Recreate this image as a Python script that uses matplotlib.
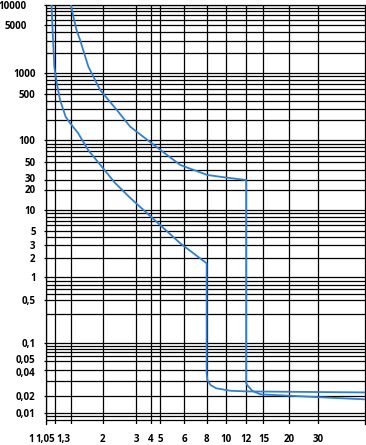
import numpy as np
import matplotlib.pyplot as plt
from matplotlib.transforms import ScaledTranslation

plt.rcParams["font.family"] = ["Open Sans", "DejaVu Sans"]
plt.rcParams["font.size"] = 7
plt.rcParams["font.weight"] = "bold"

# tripping curves: multiple of rated current vs. time (s)
low_x = [1.03, 1.037, 1.046, 1.075, 1.124, 1.214, 1.288, 1.434, 1.641, 1.973,
         2.32, 2.79, 5.82, 8.0, 8.0, 8.06, 8.36, 8.9, 10.38, 12.16, 58]
low_y = [10000, 3860, 1230, 718, 408, 223, 180, 128, 73, 43.5,
         26.6, 15.2, 3.19, 1.64, 0.0369, 0.0306, 0.0268, 0.0246, 0.0230, 0.0226, 0.0220]

high_x = [1.3, 1.346, 1.405, 1.473, 1.647, 1.929, 2.37, 2.79, 4.44, 5.82,
          8.06, 10.07, 12.0, 12.0, 12.16, 12.97, 14.43, 58]
high_y = [10000, 6620, 4250, 3080, 1240, 574, 286, 159, 83, 45.6,
          34.5, 32.0, 30.0, 0.0283, 0.0268, 0.0230, 0.0209, 0.0175]

x_ticks = [1, 1.05, 1.3, 2, 3, 4, 5, 6, 8, 10, 12, 15, 20, 30]
x_labels = ["1", "1,05", "1,3", "2", "3", "4", "5", "6", "8", "10", "12", "15", "20", "30"]
y_ticks = [10000, 5000, 1000, 500, 100, 50, 30, 20, 10, 5, 3, 2, 1,
           0.5, 0.1, 0.05, 0.04, 0.02, 0.01]
y_labels = ["10000", "5000", "1000", "500", "100", "50", "30", "20", "10", "5", "3", "2", "1",
            "0,5", "0,1", "0,05", "0,04", "0,02", "0,01"]

# the printed grid is only roughly logarithmic: calibrate the axes on it
x_cal = [1, 1.05, 1.3, 2, 3, 4, 5, 6, 8, 10, 12, 15, 20, 30]
x_pix = [46, 55, 70.7, 102.7, 136, 150.7, 160, 184, 206.3, 226, 245.7, 263, 288.7, 317.3]
y_cal = [10000, 5000, 2000, 1000, 500, 200, 100, 50, 30, 20, 10, 5, 3, 2, 1,
         0.5, 0.1, 0.05, 0.04, 0.02, 0.01, 0.007]
y_pix = [4.5, 25, 53.3, 72.7, 94.3, 120, 140.3, 161.7, 180, 190, 210, 231, 245, 257.7, 277.3,
         300, 343.3, 361, 370, 396, 413.3, 424]


def extrap(q, xp, fp):
    q = np.asarray(q, dtype=float)
    out = np.interp(q, xp, fp)
    lo = q < xp[0]
    hi = q > xp[-1]
    out = np.where(lo, fp[0] + (q - xp[0]) * (fp[1] - fp[0]) / (xp[1] - xp[0]), out)
    out = np.where(hi, fp[-1] + (q - xp[-1]) * (fp[-1] - fp[-2]) / (xp[-1] - xp[-2]), out)
    return out


def make_scale(vals, pix, flip=False):
    lv = np.log10(vals)
    p = -np.asarray(pix) if flip else np.asarray(pix)
    order = np.argsort(lv)
    lv, p = lv[order], p[order]

    def fwd(v):
        return extrap(np.log10(np.clip(v, 1e-12, None)), lv, p)

    def inv(q):
        return 10 ** extrap(q, p, lv)

    return fwd, inv


def shift(label, dx=0, dy=0):
    # offset in pixels (dy > 0 moves down)
    label.set_transform(label.get_transform()
                        + ScaledTranslation(dx / 100, -dy / 100, fig.dpi_scale_trans))


fig = plt.figure(figsize=(3.66, 4.45), dpi=100)
ax = fig.add_axes([46 / 366, 1 - 424 / 445, (364.5 - 46) / 366, (424 - 4.5) / 445])
ax.set_xscale("function", functions=make_scale(x_cal, x_pix))
ax.set_yscale("function", functions=make_scale(y_cal, y_pix, flip=True))
ax.set_xlim(1, 58)
ax.set_ylim(0.007, 10000)

ax.plot(low_x, low_y, color="#2f80cf", lw=1.3, zorder=3)
ax.plot(high_x, high_y, color="#2f80cf", lw=1.3, zorder=3)

# minor grid: 2..9 x 10^k, the printed sheet skips 0.2 and 0.4
minor_y = [m * 10.0 ** k for k in range(-3, 4) for m in range(2, 10)]
minor_y = [v for v in minor_y if 0.0075 < v < 10000
           and not any(np.isclose(v, t) for t in y_ticks + [0.2, 0.4])]

ax.set_xticks(x_ticks)
ax.set_xticklabels(x_labels)
ax.set_xticks([], minor=True)
ax.set_yticks(y_ticks)
ax.set_yticklabels(y_labels)
ax.set_yticks(minor_y, minor=True)
ax.grid(which="both", color="black", lw=0.9)
ax.tick_params(axis="x", which="both", length=0, pad=7.5)
ax.tick_params(axis="y", which="major", length=1.5, width=0.9, pad=6)
ax.tick_params(axis="y", which="minor", length=0)
ax.spines["bottom"].set_visible(False)
for side in ["left", "top", "right"]:
    ax.spines[side].set_linewidth(0.9)

# crowded labels are pushed aside as in the printed chart
xl = ax.get_xticklabels()
for lab, dx in zip(xl[:3], [-15, -9.5, -7.5]):
    shift(lab, dx=dx)
yl = ax.get_yticklabels()
shift(yl[0], dx=-9)
shift(yl[1], dx=-9)
shift(yl[6], dy=-2)    # 30
shift(yl[7], dy=-1)    # 20
shift(yl[15], dy=-2)   # 0,05
shift(yl[16], dy=2)    # 0,04

fig.savefig("out.png", dpi=100)
